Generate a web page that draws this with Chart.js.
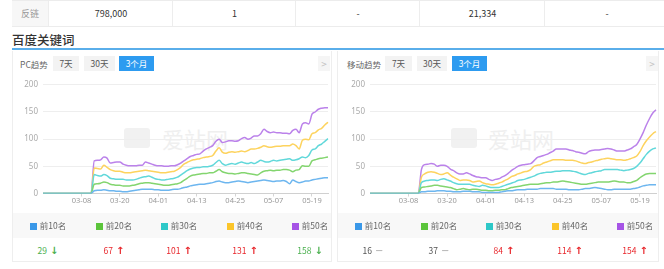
<!DOCTYPE html>
<html>
<head>
<meta charset="utf-8">
<script src="https://cdn.jsdelivr.net/npm/chart.js@4.4.1/dist/chart.umd.min.js"></script>
<style>
body { margin: 0; background: #fff; font-family: "Noto Sans CJK SC", "Noto Sans", sans-serif; }
#page { position: relative; width: 664px; height: 269px; overflow: hidden; }
.abs { position: absolute; }
.row { left: 12px; top: 0; width: 660px; height: 25px; border-top: 1px solid #ececec; border-bottom: 1px solid #ececec; }
.cell { position: absolute; top: 0; height: 25px; line-height: 25px; text-align: center; font-size: 9px; color: #333; border-left: 1px solid #ededed; }
.title { left: 12px; top: 31px; font-size: 12.5px; line-height: 18px; color: #333; font-weight: 500; }
.bar { left: 12px; top: 48px; width: 652px; height: 2px; background: #5aaeea; }
.panel { top: 51px; height: 211px; border: 1px solid #eeeeee; border-top: none; box-sizing: border-box; }
.hdr { top: 57px; font-size: 8.5px; line-height: 14px; color: #666; }
.tab { top: 56px; height: 15px; line-height: 15px; font-size: 8.5px; text-align: center; background: #f3f3f3; color: #555; }
.tab.on { background: #2d9bf0; color: #fff; }
.more { top: 56px; width: 12px; height: 15px; line-height: 15px; text-align: center; background: #f5f5f5; color: #c2c2c2; font-size: 10px; }
.band { top: 213px; height: 25px; background: #f8f8f8; }
.leg, .val { position: absolute; width: 66px; text-align: center; font-size: 8.5px; }
.leg { top: 213px; line-height: 25px; color: #666; }
.leg i { display: inline-block; width: 7px; height: 7px; margin-right: 3px; vertical-align: -0.5px; }
.val { top: 238px; line-height: 24px; }
.val b { font-family: "DejaVu Sans", sans-serif; font-size: 10px; margin-left: 3px; }
.wm { top: 126px; font-size: 22px; line-height: 24px; color: #efefef; }
.wmlogo { top: 128px; width: 26px; height: 20px; background: #f1f1f1; border-radius: 3px; }
canvas { position: absolute; }
</style>
</head>
<body>
<div id="page">
  <div class="abs row">
    <div class="cell" style="left:0;width:36px;background:#f7f7f7;color:#999;border-left:none;">反链</div>
    <div class="cell" style="left:36px;width:124px;">798,000</div>
    <div class="cell" style="left:160px;width:123px;">1</div>
    <div class="cell" style="left:283px;width:124px;">-</div>
    <div class="cell" style="left:407px;width:125px;">21,334</div>
    <div class="cell" style="left:532px;width:124px;">-</div>
  </div>
  <div class="abs title">百度关键词</div>
  <div class="abs bar"></div>

  <div class="abs panel" style="left:12px;width:320px;"></div>
  <div class="abs panel" style="left:337px;width:322px;"></div>

  <div class="abs hdr" style="left:20px;">PC趋势</div>
  <div class="abs tab" style="left:53px;width:26px;">7天</div>
  <div class="abs tab" style="left:84px;width:31px;">30天</div>
  <div class="abs tab on" style="left:119px;width:35px;">3个月</div>
  <div class="abs more" style="left:318px;">&gt;</div>

  <div class="abs hdr" style="left:347px;">移动趋势</div>
  <div class="abs tab" style="left:385px;width:27px;">7天</div>
  <div class="abs tab" style="left:417px;width:30px;">30天</div>
  <div class="abs tab on" style="left:452px;width:35px;">3个月</div>
  <div class="abs more" style="left:646px;">&gt;</div>

  <div class="abs wmlogo" style="left:124px;"></div>
  <div class="abs wm" style="left:162px;">爱站网</div>
  <div class="abs wmlogo" style="left:451px;"></div>
  <div class="abs wm" style="left:488px;">爱站网</div>

  <canvas id="pcChart" width="320" height="140" style="left:12px;top:75px;"></canvas>
  <canvas id="mobileChart" width="322" height="140" style="left:338px;top:75px;"></canvas>

  <div class="abs band" style="left:13px;width:318px;"></div>
  <div class="abs band" style="left:338px;width:320px;"></div>
  <div id="pcLegend"></div>
  <div id="mobileLegend"></div>
</div>

<script>
// --- DATA ---

const dateLabels = [
  '02-24','02-25','02-26','02-27','02-28',
  '03-01','03-02','03-03','03-04','03-05','03-06','03-07','03-08','03-09','03-10',
  '03-11','03-12','03-13','03-14','03-15','03-16','03-17','03-18','03-19','03-20',
  '03-21','03-22','03-23','03-24','03-25','03-26','03-27','03-28','03-29','03-30','03-31',
  '04-01','04-02','04-03','04-04','04-05','04-06','04-07','04-08','04-09','04-10',
  '04-11','04-12','04-13','04-14','04-15','04-16','04-17','04-18','04-19','04-20',
  '04-21','04-22','04-23','04-24','04-25','04-26','04-27','04-28','04-29','04-30',
  '05-01','05-02','05-03','05-04','05-05','05-06','05-07','05-08','05-09','05-10',
  '05-11','05-12','05-13','05-14','05-15','05-16','05-17','05-18','05-19','05-20',
  '05-21','05-22','05-23','05-24'
];
const xTickDates = ['03-08', '03-20', '04-01', '04-13', '04-25', '05-07', '05-19'];
const yTicks = [0, 50, 100, 150, 200];

const rankNames = ['前10名', '前20名', '前30名', '前40名', '前50名'];
const legendColors = ['#3a98e8', '#5bc43b', '#2ec8c8', '#fbc52a', '#a654e6'];
const lineColors = ['#6db6ef', '#83d56f', '#61d8da', '#fdd35e', '#bb82ea'];

const pcTop10 = [0,0,0,0,0,0,0,0,0,0,0,0,0,0,0,0,
  5,6,6,7,6,5,5,4,4,3, 3,4,5,6,7,8,8,8,8,7, 7,6,6,6,7,8,8,9,11,12,
  14,15,16,17,17,18,19,20,22,23, 21,20,20,21,22,23,22,21,20,21,
  22,23,24,25,24,23,22,23,23,24, 22,18,25,22,20,21,23,23,25,26, 27,28,29,29];
const pcTop20 = [0,0,0,0,0,0,0,0,0,0,0,0,0,0,0,0,
  17,18,19,21,20,17,16,15,15,14, 14,14,15,16,18,19,20,20,19,18, 17,16,15,15,16,17,18,20,24,28,
  32,34,35,36,37,37,38,38,41,44, 40,38,37,37,36,37,38,38,37,36,
  35,34,38,41,42,43,42,43,43,44, 44,43,40,43,44,51,50,50,60,62, 64,65,66,67];
const pcTop30 = [0,0,0,0,0,0,0,0,0,0,0,0,0,0,0,0,
  35,33,32,35,33,28,27,26,26,26, 25,25,25,26,28,30,31,32,30,27, 26,25,25,26,27,28,30,34,38,42,
  45,47,48,48,49,49,50,52,57,61, 55,52,54,55,54,56,58,56,55,57,
  55,58,61,59,58,59,61,60,61,62, 63,64,61,62,64,67,66,70,80,82, 88,91,96,101];
const pcTop40 = [0,0,0,0,0,0,0,0,0,0,0,0,0,0,0,0,
  47,46,45,52,48,44,42,41,41,39, 38,38,39,40,41,42,43,42,41,40, 39,38,38,39,40,41,44,48,54,57,
  60,62,63,64,66,67,68,70,78,84, 76,74,76,77,76,77,78,77,79,82,
  82,83,85,88,86,85,86,87,87,88, 88,88,91,88,82,98,100,99,110,112, 117,120,126,131];
const pcTop50 = [0,0,0,0,0,0,0,0,0,0,0,0,0,0,0,0,
  60,61,62,67,65,56,57,58,58,54, 52,51,51,51,52,52,58,56,54,52, 51,51,50,50,51,51,53,56,60,64,
  68,70,72,73,78,82,85,88,96,100, 94,95,97,97,96,97,101,103,100,102,
  106,106,110,118,114,112,113,112,112,111, 111,110,116,118,112,128,130,128,146,150, 155,157,158,158];

const mobileTop10 = [0,0,0,0,0,0,0,0,0,0,0,0,0,0,0,0,
  3,3,4,4,4,5,5,5,4,4, 3,3,3,4,4,4,3,3,3,2, 2,2,2,2,2,3,4,5,5,6,
  7,7,7,8,8,8,8,9,9,9, 9,9,8,8,8,8,7,7,7,7,
  8,9,9,10,11,10,9,8,7,7, 8,8,8,8,8,8,9,10,12,14, 15,16,16,16];
const mobileTop20 = [0,0,0,0,0,0,0,0,0,0,0,0,0,0,0,0,
  11,12,13,14,15,15,14,13,12,11, 9,7,8,9,8,7,8,8,7,6, 6,5,5,6,6,7,7,9,11,12,
  13,14,15,16,17,17,17,18,19,20, 20,21,21,22,23,22,21,20,19,18,
  17,17,18,19,20,21,21,21,21,22, 23,22,21,21,20,20,22,24,29,33, 36,37,37,37];
const mobileTop30 = [0,0,0,0,0,0,0,0,0,0,0,0,0,0,0,0,
  20,23,24,25,25,24,26,27,25,23, 20,18,17,17,17,17,15,14,13,15, 14,12,11,11,11,13,15,17,19,21,
  24,25,26,28,30,32,35,37,38,39, 39,40,41,41,42,42,42,41,40,38,
  36,35,37,38,40,41,42,44,44,44, 44,44,43,42,43,44,46,50,56,64, 72,78,82,84];
const mobileTop40 = [0,0,0,0,0,0,0,0,0,0,0,0,0,0,0,0,
  30,36,39,40,39,37,35,36,38,34, 30,27,24,25,25,24,21,22,23,20, 18,17,16,17,19,21,24,27,31,33,
  36,38,40,41,44,50,52,53,56,58, 60,62,62,62,62,61,61,61,60,58,
  56,55,57,58,60,61,63,64,65,64, 63,62,62,61,62,64,66,69,77,88, 97,104,110,114];
const mobileTop50 = [0,0,0,0,0,0,0,0,0,0,0,0,0,0,0,0,
  44,53,54,55,54,50,52,52,50,45, 42,38,36,36,38,36,33,31,30,29, 29,26,24,26,27,30,33,37,42,46,
  50,52,53,54,55,60,66,68,70,72, 75,78,82,82,82,82,80,79,77,76,
  74,73,77,79,80,80,81,82,83,82, 80,78,78,78,80,82,86,90,100,112, 126,138,148,154];

const pcTrend = ['down', 'up', 'up', 'up', 'down'];
const mobileTrend = ['flat', 'flat', 'up', 'up', 'up'];

// --- CHARTS ---

Chart.defaults.font.family = '"Noto Sans", "Noto Sans CJK SC", sans-serif';

function makeChart(id, series, yWidth) {
  const datasets = series.map((data, i) => ({
    label: rankNames[i],
    data: data,
    borderColor: lineColors[i],
    borderWidth: 1.5,
    pointRadius: 0,
    fill: false,
    cubicInterpolationMode: 'monotone'
  }));

  return new Chart(document.getElementById(id), {
    type: 'line',
    data: { labels: dateLabels, datasets: datasets },
    options: {
      responsive: false,
      animation: false,
      layout: { padding: { top: 8, right: 4, left: 0, bottom: 0 } },
      plugins: { legend: { display: false }, tooltip: { enabled: false } },
      scales: {
        x: {
          grid: { drawOnChartArea: false, tickLength: 3, color: '#d5d5d5' },
          border: { color: '#d0d0d0' },
          ticks: { autoSkip: false, maxRotation: 0, padding: 0, color: '#999', font: { size: 7.5 } },
          afterBuildTicks: (scale) => {
            scale.ticks = scale.ticks.filter(t => xTickDates.includes(dateLabels[t.value]));
          },
          afterFit: (scale) => { scale.height = 21.5; }
        },
        y: {
          min: 0,
          max: 200,
          grid: { color: '#eeeeee', drawTicks: false },
          border: { display: false },
          ticks: { padding: 5, color: '#aaa', font: { size: 8 } },
          afterBuildTicks: (scale) => { scale.ticks = yTicks.map(v => ({ value: v })); },
          afterFit: (scale) => { scale.width = yWidth; }
        }
      }
    }
  });
}

makeChart('pcChart', [pcTop10, pcTop20, pcTop30, pcTop40, pcTop50], 31);
makeChart('mobileChart', [mobileTop10, mobileTop20, mobileTop30, mobileTop40, mobileTop50], 32);

// --- LEGEND + LATEST VALUES ---

function buildLegend(elId, panelLeft, series, trend) {
  const trendMark = {
    up: '<b style="color:#e8262b">↑</b>',
    down: '<b style="color:#4bb04f">↓</b>',
    flat: '<b style="color:#aaa;font-weight:normal">−</b>'
  };
  const valColor = { up: '#e8262b', down: '#4bb04f', flat: '#555' };
  let html = '';
  series.forEach((data, i) => {
    const left = panelLeft + 3 + Math.round(65.6 * i);
    const last = data[data.length - 1];
    html += `<div class="leg" style="left:${left}px"><i style="background:${legendColors[i]}"></i>${rankNames[i]}</div>`;
    html += `<div class="val" style="left:${left}px;color:${valColor[trend[i]]}">${last}${trendMark[trend[i]]}</div>`;
  });
  document.getElementById(elId).innerHTML = html;
}

buildLegend('pcLegend', 12, [pcTop10, pcTop20, pcTop30, pcTop40, pcTop50], pcTrend);
buildLegend('mobileLegend', 337, [mobileTop10, mobileTop20, mobileTop30, mobileTop40, mobileTop50], mobileTrend);
</script>
</body>
</html>
